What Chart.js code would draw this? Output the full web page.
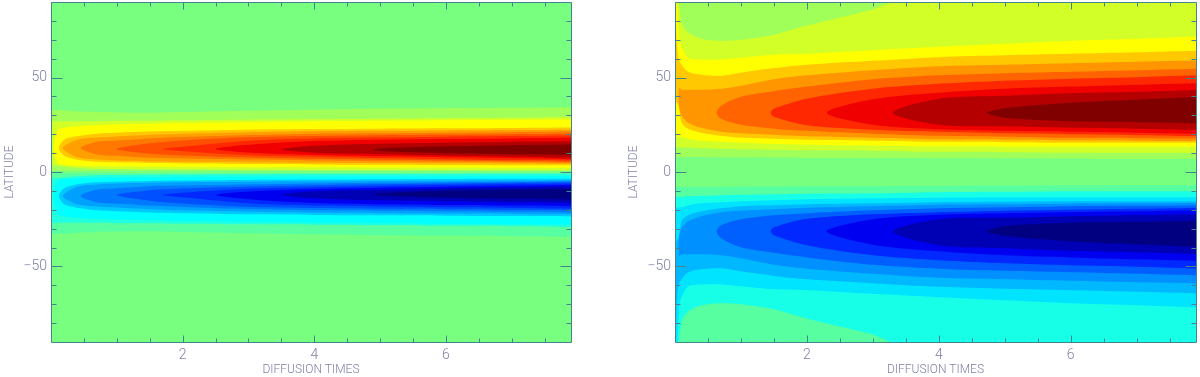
<!DOCTYPE html>
<html><head><meta charset="utf-8">
<style>html,body{margin:0;padding:0;background:#fff;width:1200px;height:377px;overflow:hidden}canvas{position:absolute;top:0}</style>
<script src="https://cdn.jsdelivr.net/npm/chart.js@4"></script>
</head><body>
<canvas id="left" width="600" height="377" style="left:0"></canvas>
<canvas id="right" width="576" height="377" style="left:624px"></canvas>
<script>
const _ = null;
// Diffusion times at which each contour edge was read
const times = [.1,.2,.4,.7,1,1.5,2,3,4,5,6,7,8.2];
const xLabelled = [2,4,6];
const yLabelled = [-50,0,50];
const xMinor = [.5,1,1.5,2.5,3,3.5,4.5,5,5.5,6.5,7,7.5];
const yMinor = [-80,-70,-60,-40,-30,-20,-10,10,20,30,40,60,70,80];
const baseColor = '#78ff80';
const baseT = [-.3,-.3,8.2,8.2];
const baseLat = [-95,95,95,-95];

// ---- Left panel, northern lobe: poleward edge, equatorward edge, closing points
const lN1P=[32.8,32.6,32.1,31.7,31.5,31.4,31.7,32.4,33.0,33.5,33.8,34.0,34.4];
const lN1E=[.7,.7,.7,.7,.7,.7,.7,.7,.6,.6,.5,.5,.5];
const lN1T=[-.3,-.3], lN1L=[.7,32.8];
const lN2P=[26.9,26.9,26.9,26.9,27.1,27.1,27.4,27.7,27.9,28.2,28.5,28.7,29.3];
const lN2E=[3.3,2.8,2.3,1.7,1.6,1.4,1.3,1.2,1.1,1.0,1.0,.9,.9];
const lN2T=[-.3,-.3], lN2L=[3.3,26.9];
const lN3P=[22.1,23.4,24.2,24.9,25.3,25.6,25.9,26.4,26.9,27.1,27.4,27.7,27.9];
const lN3E=[4.9,3.9,3.3,3.0,2.9,2.8,2.6,2.5,2.5,2.4,2.4,2.3,2.3];
const lN3T=[.04], lN3L=[12.7];
const lN4P=[_,17.1,18.9,20.3,20.8,21.4,21.8,22.4,22.7,22.9,23.1,23.3,23.6];
const lN4E=[_,8.6,6.5,5.4,5.1,4.7,4.5,4.2,4.0,3.8,3.7,3.6,3.5];
const lN4T=[.12], lN4L=[12.7];
const lN5P=[_,_,17.1,18.3,18.8,19.7,20.3,21.1,21.6,21.8,22.0,22.2,22.5];
const lN5E=[_,_,7.8,6.6,6.1,5.7,5.4,5.2,4.9,4.7,4.6,4.5,4.3];
const lN5T=[.18], lN5L=[12.7];
const lN6P=[_,_,_,16.0,16.7,17.8,18.5,19.6,20.3,20.5,20.8,21.1,21.5];
const lN6E=[_,_,_,9.3,8.6,7.5,7.2,6.6,6.1,5.7,5.4,5.2,4.8];
const lN6T=[.45], lN6L=[12.7];
const lN7P=[_,_,_,_,_,15.2,16.7,18.4,19.1,19.5,19.7,20.0,20.3];
const lN7E=[_,_,_,_,_,9.7,8.8,7.7,7.0,6.5,6.1,5.7,5.4];
const lN7T=[1], lN7L=[12.2];
const lN8P=[_,_,_,_,_,_,13.4,16.6,17.8,18.2,18.7,19.0,19.5];
const lN8E=[_,_,_,_,_,_,11.0,8.9,8.1,7.4,6.8,6.3,6.0];
const lN8T=[1.7], lN8L=[12.2];
const lN9P=[_,_,_,_,_,_,_,14.4,16.4,17.1,17.5,17.8,18.2];
const lN9E=[_,_,_,_,_,_,_,10.3,9.0,8.3,7.8,7.3,6.6];
const lN9T=[2.5], lN9L=[12.2];
const lN10P=[_,_,_,_,_,_,_,_,13.9,15.0,15.5,16.0,16.3];
const lN10E=[_,_,_,_,_,_,_,_,10.2,9.4,8.6,8.1,7.5];
const lN10T=[3.5], lN10L=[12.0];
const lN11P=[_,_,_,_,_,_,_,_,_,12.5,13.6,14.2,14.7];
const lN11E=[_,_,_,_,_,_,_,_,_,11.1,9.9,9.4,8.9];
const lN11T=[4.9], lN11L=[11.8];
const leftWarm=['#a0ff58','#d2ff28','#ffff00','#ffc800','#ffa000','#ff7800','#ff5000','#ff2800','#f00000','#b40000','#800000'];

// ---- Left panel, southern lobe
const lS1P=[-32.8,-32.6,-32.1,-31.7,-31.5,-31.4,-31.7,-32.4,-33.0,-33.5,-33.8,-34.0,-34.4];
const lS1E=[-.7,-.7,-.7,-.7,-.7,-.7,-.7,-.7,-.6,-.6,-.5,-.5,-.5];
const lS1T=[-.3,-.3], lS1L=[-.7,-32.8];
const lS2P=[-26.9,-26.9,-26.9,-26.9,-27.1,-27.1,-27.4,-27.7,-27.9,-28.2,-28.5,-28.7,-29.3];
const lS2E=[-3.3,-2.8,-2.3,-1.7,-1.6,-1.4,-1.3,-1.2,-1.1,-1.0,-1.0,-.9,-.9];
const lS2T=[-.3,-.3], lS2L=[-3.3,-26.9];
const lS3P=[-22.1,-23.4,-24.2,-24.9,-25.3,-25.6,-25.9,-26.4,-26.9,-27.1,-27.4,-27.7,-27.9];
const lS3E=[-4.9,-3.9,-3.3,-3.0,-2.9,-2.8,-2.6,-2.5,-2.5,-2.4,-2.4,-2.3,-2.3];
const lS3T=[.04], lS3L=[-12.7];
const lS4P=[_,-17.1,-18.9,-20.3,-20.8,-21.4,-21.8,-22.4,-22.7,-22.9,-23.1,-23.3,-23.6];
const lS4E=[_,-8.6,-6.5,-5.4,-5.1,-4.7,-4.5,-4.2,-4.0,-3.8,-3.7,-3.6,-3.5];
const lS4T=[.12], lS4L=[-12.7];
const lS5P=[_,_,-17.1,-18.3,-18.8,-19.7,-20.3,-21.1,-21.6,-21.8,-22.0,-22.2,-22.5];
const lS5E=[_,_,-7.8,-6.6,-6.1,-5.7,-5.4,-5.2,-4.9,-4.7,-4.6,-4.5,-4.3];
const lS5T=[.18], lS5L=[-12.7];
const lS6P=[_,_,_,-16.0,-16.7,-17.8,-18.5,-19.6,-20.3,-20.5,-20.8,-21.1,-21.5];
const lS6E=[_,_,_,-9.3,-8.6,-7.5,-7.2,-6.6,-6.1,-5.7,-5.4,-5.2,-4.8];
const lS6T=[.45], lS6L=[-12.7];
const lS7P=[_,_,_,_,_,-15.2,-16.7,-18.4,-19.1,-19.5,-19.7,-20.0,-20.3];
const lS7E=[_,_,_,_,_,-9.7,-8.8,-7.7,-7.0,-6.5,-6.1,-5.7,-5.4];
const lS7T=[1], lS7L=[-12.2];
const lS8P=[_,_,_,_,_,_,-13.4,-16.6,-17.8,-18.2,-18.7,-19.0,-19.5];
const lS8E=[_,_,_,_,_,_,-11.0,-8.9,-8.1,-7.4,-6.8,-6.3,-6.0];
const lS8T=[1.7], lS8L=[-12.2];
const lS9P=[_,_,_,_,_,_,_,-14.4,-16.4,-17.1,-17.5,-17.8,-18.2];
const lS9E=[_,_,_,_,_,_,_,-10.3,-9.0,-8.3,-7.8,-7.3,-6.6];
const lS9T=[2.5], lS9L=[-12.2];
const lS10P=[_,_,_,_,_,_,_,_,-13.9,-15.0,-15.5,-16.0,-16.3];
const lS10E=[_,_,_,_,_,_,_,_,-10.2,-9.4,-8.6,-8.1,-7.5];
const lS10T=[3.5], lS10L=[-12.0];
const lS11P=[_,_,_,_,_,_,_,_,_,-12.5,-13.6,-14.2,-14.7];
const lS11E=[_,_,_,_,_,_,_,_,_,-11.1,-9.9,-9.4,-8.9];
const lS11T=[4.9], lS11L=[-11.8];
const leftCold=['#58ffa0','#20ffe0','#00ffff','#00c8ff','#00a0ff','#0078ff','#0050ff','#0028ff','#0000f0','#0000b4','#000080'];

// ---- Right panel, northern half
const rN1E=[7.9,7.9,7.9,7.8,7.8,7.7,7.6,7.5,7.4,7.3,7.2,7.0,7.0];
const rN1T=[-.3,-.3,8.2], rN1L=[7.9,95,95];
const rN2E=[13.1,12.8,12.6,12.3,12.1,11.8,11.5,11.3,10.7,10.5,10.2,10.2,10.2];
const rN2T=[-.3,-.3,8.2], rN2L=[13.1,95,95];
const rNblobE=[79.1,73.8,70.6,69.5,70.0,72.7,77.5,85.9,_,_,_,_,_];
const rNblobT=[.05,3.6], rNblobL=[95,95];
const rN3P=[66.3,60.5,59.5,59.5,60.5,62.1,62.6,64.5,66.3,67.9,69.5,70.6,72.2];
const rN3E=[18.7,17.6,16.5,16.0,15.5,14.9,14.4,13.9,13.6,13.4,13.4,13.4,13.4];
const rN3T=[-.3,-.3,.03,.05,.07], rN3L=[18.7,95,95,80.7,70];
const rN4P=[56.8,53.1,51.5,51.0,52.6,55.0,56.8,58.9,60.8,61.8,62.6,63.4,64.5];
const rN4E=[26.1,22.9,20.8,19.2,18.1,17.6,17.1,16.6,16.0,15.8,15.5,15.5,15.5];
const rN4T=[.023,-.3,-.3,.01,.02,.05], rN4L=[36.7,36.7,95,95,73.8,60.5];
const rN5P=[43.6,43.6,43.6,44.1,45.7,49.1,51.2,53.9,56.0,56.8,57.6,58.4,59.2];
const rN5E=[29.8,26.1,23.4,21.3,20.5,19.7,18.9,18.1,17.3,17.1,16.8,16.6,16.3];
const rN5T=[.06,.06], rN5L=[35.6,44.6];
const rN6P=[_,_,_,35.1,39.9,42.8,45.2,49.1,51.2,52.3,53.1,53.9,55.0];
const rN6E=[_,_,_,28.2,25.0,22.9,21.8,20.3,19.2,18.7,18.1,17.9,17.6];
const rN6T=[.63], rN6L=[31.4];
const rN7P=[_,_,_,_,_,33.5,38.8,44.1,46.7,48.3,49.4,50.2,51.5];
const rN7E=[_,_,_,_,_,29.3,24.8,22.4,21.3,20.5,20.0,19.5,18.9];
const rN7T=[1.45], rN7L=[31.4];
const rN8P=[_,_,_,_,_,_,_,38.5,42.0,44.1,45.2,46.2,47.3];
const rN8E=[_,_,_,_,_,_,_,25.0,22.6,21.8,21.3,20.8,20.0];
const rN8T=[2.3], rN8L=[31.4];
const rN9P=[_,_,_,_,_,_,_,_,38.8,40.4,41.7,42.5,43.8];
const rN9E=[_,_,_,_,_,_,_,_,25.0,24.2,23.4,22.9,22.1];
const rN9T=[3.3], rN9L=[31.4];
const rN10P=[_,_,_,_,_,_,_,_,_,33.8,36.7,38.3,40.1];
const rN10E=[_,_,_,_,_,_,_,_,_,28.7,26.9,26.4,25.6];
const rN10T=[4.73], rN10L=[31.4];
const rightWarm=['#a0ff58','#d2ff28','#ffff00','#ffc800','#ff9600','#ff6400','#ff2800','#f00000','#b40000','#800000'];

// ---- Right panel, southern half
const rS1E=[-7.9,-7.9,-7.9,-7.8,-7.8,-7.7,-7.6,-7.5,-7.4,-7.3,-7.2,-7.0,-7.0];
const rS1T=[-.3,-.3,8.2], rS1L=[-7.9,-95,-95];
const rS2E=[-13.1,-12.8,-12.6,-12.3,-12.1,-11.8,-11.5,-11.3,-10.7,-10.5,-10.2,-10.2,-10.2];
const rS2T=[-.3,-.3,8.2], rS2L=[-13.1,-95,-95];
const rSblobE=[-79.1,-73.8,-70.6,-69.5,-70.0,-72.7,-77.5,-85.9,_,_,_,_,_];
const rSblobT=[.05,3.6], rSblobL=[-95,-95];
const rS3P=[-66.3,-60.5,-59.5,-59.5,-60.5,-62.1,-62.6,-64.5,-66.3,-67.9,-69.5,-70.6,-72.2];
const rS3E=[-18.7,-17.6,-16.5,-16.0,-15.5,-14.9,-14.4,-13.9,-13.6,-13.4,-13.4,-13.4,-13.4];
const rS3T=[-.3,-.3,.03,.05,.07], rS3L=[-18.7,-95,-95,-80.7,-70];
const rS4P=[-56.8,-53.1,-51.5,-51.0,-52.6,-55.0,-56.8,-58.9,-60.8,-61.8,-62.6,-63.4,-64.5];
const rS4E=[-26.1,-22.9,-20.8,-19.2,-18.1,-17.6,-17.1,-16.6,-16.0,-15.8,-15.5,-15.5,-15.5];
const rS4T=[.023,-.3,-.3,.01,.02,.05], rS4L=[-36.7,-36.7,-95,-95,-73.8,-60.5];
const rS5P=[-43.6,-43.6,-43.6,-44.1,-45.7,-49.1,-51.2,-53.9,-56.0,-56.8,-57.6,-58.4,-59.2];
const rS5E=[-29.8,-26.1,-23.4,-21.3,-20.5,-19.7,-18.9,-18.1,-17.3,-17.1,-16.8,-16.6,-16.3];
const rS5T=[.06,.06], rS5L=[-35.6,-44.6];
const rS6P=[_,_,_,-35.1,-39.9,-42.8,-45.2,-49.1,-51.2,-52.3,-53.1,-53.9,-55.0];
const rS6E=[_,_,_,-28.2,-25.0,-22.9,-21.8,-20.3,-19.2,-18.7,-18.1,-17.9,-17.6];
const rS6T=[.63], rS6L=[-31.4];
const rS7P=[_,_,_,_,_,-33.5,-38.8,-44.1,-46.7,-48.3,-49.4,-50.2,-51.5];
const rS7E=[_,_,_,_,_,-29.3,-24.8,-22.4,-21.3,-20.5,-20.0,-19.5,-18.9];
const rS7T=[1.45], rS7L=[-31.4];
const rS8P=[_,_,_,_,_,_,_,-38.5,-42.0,-44.1,-45.2,-46.2,-47.3];
const rS8E=[_,_,_,_,_,_,_,-25.0,-22.6,-21.8,-21.3,-20.8,-20.0];
const rS8T=[2.3], rS8L=[-31.4];
const rS9P=[_,_,_,_,_,_,_,_,-38.8,-40.4,-41.7,-42.5,-43.8];
const rS9E=[_,_,_,_,_,_,_,_,-25.0,-24.2,-23.4,-22.9,-22.1];
const rS9T=[3.3], rS9L=[-31.4];
const rS10P=[_,_,_,_,_,_,_,_,_,-33.8,-36.7,-38.3,-40.1];
const rS10E=[_,_,_,_,_,_,_,_,_,-28.7,-26.9,-26.4,-25.6];
const rS10T=[4.73], rS10L=[-31.4];
const rightCold=['#58ffa0','#18ffe8','#00e4ff','#00b8ff','#0090ff','#0060ff','#0028ff','#0000f0','#0000b4','#000080'];

function contour(color, pole, eq, capT, capLat){
  const pts=[];
  const add=(t,lat)=>{
    pts.push({x:t,y:lat});
    if(t<0||t>8||Math.abs(lat)>=95) pts.push({x:t,y:lat});
  };
  for(let i=times.length-1;i>=0;i--) if(eq[i]!=null) add(times[i],eq[i]);
  capT.forEach((t,i)=>add(t,capLat[i]));
  times.forEach((t,i)=>{ if(pole[i]!=null) add(t,pole[i]); });
  return {data:pts,showLine:true,fill:'shape',backgroundColor:color,borderWidth:0,pointRadius:0,tension:.3,capBezierPoints:false};
}
const leftSets=[
  contour(baseColor,[],[],baseT,baseLat),
  contour(leftWarm[0],lN1P,lN1E,lN1T,lN1L),contour(leftWarm[1],lN2P,lN2E,lN2T,lN2L),contour(leftWarm[2],lN3P,lN3E,lN3T,lN3L),
  contour(leftWarm[3],lN4P,lN4E,lN4T,lN4L),contour(leftWarm[4],lN5P,lN5E,lN5T,lN5L),contour(leftWarm[5],lN6P,lN6E,lN6T,lN6L),
  contour(leftWarm[6],lN7P,lN7E,lN7T,lN7L),contour(leftWarm[7],lN8P,lN8E,lN8T,lN8L),contour(leftWarm[8],lN9P,lN9E,lN9T,lN9L),
  contour(leftWarm[9],lN10P,lN10E,lN10T,lN10L),contour(leftWarm[10],lN11P,lN11E,lN11T,lN11L),
  contour(leftCold[0],lS1P,lS1E,lS1T,lS1L),contour(leftCold[1],lS2P,lS2E,lS2T,lS2L),contour(leftCold[2],lS3P,lS3E,lS3T,lS3L),
  contour(leftCold[3],lS4P,lS4E,lS4T,lS4L),contour(leftCold[4],lS5P,lS5E,lS5T,lS5L),contour(leftCold[5],lS6P,lS6E,lS6T,lS6L),
  contour(leftCold[6],lS7P,lS7E,lS7T,lS7L),contour(leftCold[7],lS8P,lS8E,lS8T,lS8L),contour(leftCold[8],lS9P,lS9E,lS9T,lS9L),
  contour(leftCold[9],lS10P,lS10E,lS10T,lS10L),contour(leftCold[10],lS11P,lS11E,lS11T,lS11L)
];
const rightSets=[
  contour(baseColor,[],[],baseT,baseLat),
  contour(rightWarm[0],[],rN1E,rN1T,rN1L),contour(rightWarm[1],[],rN2E,rN2T,rN2L),contour(rightWarm[0],[],rNblobE,rNblobT,rNblobL),
  contour(rightWarm[2],rN3P,rN3E,rN3T,rN3L),contour(rightWarm[3],rN4P,rN4E,rN4T,rN4L),contour(rightWarm[4],rN5P,rN5E,rN5T,rN5L),
  contour(rightWarm[5],rN6P,rN6E,rN6T,rN6L),contour(rightWarm[6],rN7P,rN7E,rN7T,rN7L),contour(rightWarm[7],rN8P,rN8E,rN8T,rN8L),
  contour(rightWarm[8],rN9P,rN9E,rN9T,rN9L),contour(rightWarm[9],rN10P,rN10E,rN10T,rN10L),
  contour(rightCold[0],[],rS1E,rS1T,rS1L),contour(rightCold[1],[],rS2E,rS2T,rS2L),contour(rightCold[0],[],rSblobE,rSblobT,rSblobL),
  contour(rightCold[2],rS3P,rS3E,rS3T,rS3L),contour(rightCold[3],rS4P,rS4E,rS4T,rS4L),contour(rightCold[4],rS5P,rS5E,rS5T,rS5L),
  contour(rightCold[5],rS6P,rS6E,rS6T,rS6L),contour(rightCold[6],rS7P,rS7E,rS7T,rS7L),contour(rightCold[7],rS8P,rS8E,rS8T,rS8L),
  contour(rightCold[8],rS9P,rS9E,rS9T,rS9L),contour(rightCold[9],rS10P,rS10E,rS10T,rS10L)
];

const inkColor='#8080a8', frameColor='#43848f', tickFont={family:'Roboto',size:14,weight:'300'};
const frame={id:'frame',afterDatasetsDraw(c){
  const {ctx,chartArea:a,scales:{x,y}}=c;
  ctx.save();ctx.strokeStyle=frameColor;ctx.lineWidth=1;ctx.beginPath();
  const L=a.left+.5,R=a.right+.5,T=a.top+.5,B=a.bottom+.5;
  const xt=(v,len)=>{const p=Math.round(x.getPixelForValue(v))+.5;ctx.moveTo(p,T);ctx.lineTo(p,T+len);ctx.moveTo(p,B);ctx.lineTo(p,B-len);};
  const yt=(v,len)=>{const p=Math.round(y.getPixelForValue(v))+.5;ctx.moveTo(L,p);ctx.lineTo(L+len,p);ctx.moveTo(R,p);ctx.lineTo(R-len,p);};
  xLabelled.forEach(v=>xt(v,7));xMinor.forEach(v=>xt(v,4));
  yLabelled.forEach(v=>yt(v,11));yMinor.forEach(v=>yt(v,5));
  ctx.rect(L,T,R-L,B-T);ctx.stroke();ctx.restore();
}};
function build(id,sets,rightPad){
  return new Chart(document.getElementById(id),{
    type:'scatter',
    data:{datasets:sets.slice().reverse()},
    options:{
      responsive:false,animation:false,devicePixelRatio:1,
      layout:{padding:{top:2,right:rightPad,left:0,bottom:0}},
      plugins:{legend:{display:false},tooltip:{enabled:false}},
      scales:{
        x:{type:'linear',min:0,max:7.9,
          afterFit:s=>{s.height=35;s.paddingLeft=0;s.paddingRight=0;},
          afterBuildTicks:s=>{s.ticks=xLabelled.map(v=>({value:v}));},
          grid:{display:false,drawTicks:false},border:{display:false},
          ticks:{color:inkColor,font:tickFont,padding:5,maxRotation:0,autoSkip:false,callback:v=>String(v)},
          title:{display:true,text:'DIFFUSION TIMES',color:inkColor,font:{family:'Roboto',size:12,weight:'300'},padding:{top:0,bottom:0}}},
        y:{type:'linear',min:-90,max:90,
          afterFit:s=>{s.width=51;s.paddingTop=0;s.paddingBottom=0;},
          afterBuildTicks:s=>{s.ticks=yLabelled.map(v=>({value:v}));},
          grid:{display:false,drawTicks:false},border:{display:false},
          ticks:{color:inkColor,font:tickFont,padding:4,autoSkip:false,callback:v=>String(v).replace('-','\u2212')},
          title:{display:true,text:'LATITUDE',color:inkColor,font:{family:'Roboto',size:12,weight:'300'},padding:{top:3,bottom:0}}}
      }
    },
    plugins:[frame]
  });
}
build('left',leftSets,29);
build('right',rightSets,4);
</script>
</body></html>
